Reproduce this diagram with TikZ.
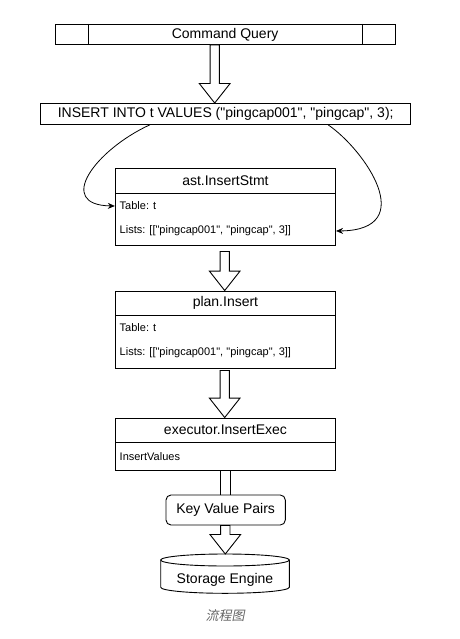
\documentclass[tikz,border=0pt]{standalone}
\usepackage{fontspec}
\setmainfont{Liberation Sans}
\newfontfamily\lib{Liberation Sans}
\newfontfamily\cjk[FakeSlant=0.2]{Noto Sans CJK SC}
\usetikzlibrary{calc,arrows.meta}
\definecolor{capgray}{HTML}{666666}
\tikzset{
  ln/.style={line width=0.9pt},
  big/.style={font=\lib\fontsize{14}{16}\selectfont},
  box/.style={draw, ln, fill=white, inner sep=0pt, minimum width=220.3pt},
  hdrbox/.style={box, big},
  bodytxt/.style={anchor=west, inner sep=0pt, font=\lib\fontsize{11}{13}\selectfont},
  blk/.style={draw, ln, fill=white, line join=miter},
  curvearr/.style={draw, line width=0.8pt, -{Stealth[length=7pt,width=6pt]}},
}
% block arrow: #1 centre x (pt), #2 start anchor, #3 tip anchor
\newcommand\blockarr[3]{%
  \draw[blk] let \p1=(#2), \p2=(#3) in
    (#1-4.65pt,\y1) -- (#1-4.65pt,\y2+19.5pt) -- (#1-15.35pt,\y2+19.5pt) --
    (#1,\y2) -- (#1+15.35pt,\y2+19.5pt) -- (#1+4.65pt,\y2+19.5pt) --
    (#1+4.65pt,\y1) -- cycle;}
\begin{document}
\begin{tikzpicture}[x=1pt,y=-1pt]
\fill[white] (0,0) rectangle (459,639);
\useasboundingbox (0,0) rectangle (459,639);

% Command Query bar
\node[draw, ln, minimum width=340.3pt, minimum height=20.2pt, inner sep=0pt, big] (cq) at (225.15,34.4) {Command Query};
\draw[ln] ([xshift=34.3pt]cq.north west) -- ([xshift=34.3pt]cq.south west);
\draw[ln] ([xshift=-33.6pt]cq.north east) -- ([xshift=-33.6pt]cq.south east);

% INSERT statement
\node[draw, ln, minimum width=370pt, minimum height=20.8pt, inner sep=0pt, big] (ins) at (225.7,113.9) {INSERT INTO t VALUES ("pingcap001", "pingcap", 3);};

% ast.InsertStmt
\node[hdrbox, minimum height=25.5pt] (astH) at (225.45,180.75) {ast.InsertStmt};
\node[box, minimum height=51.5pt] (astB) at (225.45,219.25) {};
\node[bodytxt] (astT) at (119.5,206) {Table: t};
\node[bodytxt] (astL) at (119.5,231) {Lists: [["pingcap001", "pingcap", 3]]};

% plan.Insert
\node[hdrbox, minimum height=24pt] (planH) at (225.45,303) {plan.Insert};
\node[box, minimum height=53.5pt] (planB) at (225.45,341.75) {};
\node[bodytxt] (planT) at (119.5,327.5) {Table: t};
\node[bodytxt] (planL) at (119.5,352.5) {Lists: [["pingcap001", "pingcap", 3]]};

% executor.InsertExec
\node[hdrbox, minimum height=24pt] (exH) at (225.45,430) {executor.InsertExec};
\node[box, minimum height=28pt] (exB) at (225.45,456) {};
\node[bodytxt] (exT) at (119.5,457) {InsertValues};

% Key Value Pairs
\node[draw, ln, rounded corners=5pt, minimum width=119.3pt, minimum height=30pt, inner sep=0pt, big] (kvp) at (225.65,510) {Key Value Pairs};

% Storage Engine cylinder
\coordinate (setop) at (225,554);
\draw[ln, fill=white] (160.7,560) -- (160.7,587.3) arc[start angle=180, end angle=0, x radius=64.3, y radius=6] -- (289.3,560) -- cycle;
\draw[ln, fill=white] (225,560) ellipse [x radius=64.3, y radius=6];
\node[big, inner sep=0pt] (se) at (225,580) {Storage Engine};

% block arrows
\blockarr{214.7pt}{cq.south}{ins.north}
\blockarr{224.7pt}{[yshift=-6pt]astB.south}{planH.north}
\blockarr{224.7pt}{[yshift=-1.5pt]planB.south}{exH.north}
\draw[ln] ([xshift=-4.65pt]exB.south) -- ([xshift=-4.65pt]exB.south |- kvp.north);
\draw[ln] ([xshift=4.65pt]exB.south) -- ([xshift=4.65pt]exB.south |- kvp.north);
\blockarr{225.3pt}{kvp.south}{setop}

% curved arrows
\draw[curvearr] ([xshift=-75.7pt]ins.south) .. controls (95,150) and (55,205) .. (astT -| astB.west);
\draw[curvearr] ([xshift=102.3pt]ins.south) .. controls (365,150) and (420,230) .. (astL -| astB.east);

% caption
\node[text=capgray, inner sep=0pt, font=\cjk\fontsize{13}{15}\selectfont] (cap) at (225,616) {流程图};
\end{tikzpicture}
\end{document}
